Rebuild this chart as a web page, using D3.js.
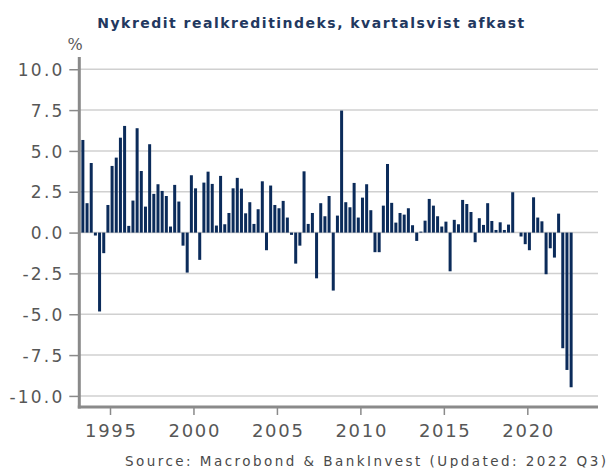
<!DOCTYPE html>
<html>
<head>
<meta charset="utf-8">
<script src="https://cdn.jsdelivr.net/npm/d3@7"></script>
<style>
  html, body { margin: 0; padding: 0; background: #ffffff; }
  svg { display: block; }
</style>
</head>
<body>
<svg id="chart" width="608" height="468"></svg>
<script>
// ---- Data (quarterly return, %), 1993 Q2 .. 2022 Q3 ----
const startYear = 1993;
const startQuarter = 2;
const returns = [
  5.67, 1.80, 4.26, -0.18, -4.83, -1.26, 1.69, 4.08, 4.59, 5.81,
  6.53, 0.41, 1.96, 6.39, 3.77, 1.59, 5.41, 2.37, 2.96, 2.55,
  2.24, 0.37, 2.92, 1.90, -0.80, -2.45, 3.51, 2.71, -1.67, 3.06,
  3.73, 2.98, 0.43, 3.47, 0.51, 1.20, 2.71, 3.35, 2.69, 1.18,
  1.86, 0.53, 1.43, 3.14, -1.08, 2.88, 1.69, 1.49, 1.94, 0.92,
  -0.14, -1.90, -0.80, 3.75, 0.53, 1.20, -2.80, 1.80, 1.00, 2.24,
  -3.55, 1.04, 7.47, 1.86, 1.55, 3.04, 0.92, 2.14, 2.96, 1.37,
  -1.20, -1.20, 1.65, 4.20, 1.82, 0.61, 1.20, 1.10, 1.49, 0.45,
  -0.51, 0.06, 0.73, 2.06, 1.65, 1.00, 0.37, 0.67, -2.37, 0.78,
  0.51, 2.00, 1.75, 1.26, -0.59, 0.88, 0.47, 1.80, 0.71, 0.16,
  0.63, 0.16, 0.49, 2.47, 0.00, -0.24, -0.71, -1.08, 2.16, 0.92,
  0.69, -2.55, -0.96, -1.53, 1.16, -7.08, -8.41, -9.47
];
const yTicks = [-10, -7.5, -5, -2.5, 0, 2.5, 5, 7.5, 10];
const xTicks = [1995, 2000, 2005, 2010, 2015, 2020];
const titleText = "Nykredit realkreditindeks, kvartalsvist afkast";
const unitText = "%";
const sourceText = "Source: Macrobond & BankInvest (Updated: 2022 Q3)";

const data = returns.map((v, i) => {
  const qi = (startQuarter - 1) + i;
  return { t: startYear + qi / 4 + 0.125, v: v };
});

// ---- Layout ----
const svg = d3.select("#chart");
const plotLeft = 79.3, plotRight = 598, plotTop = 57, plotBottom = 408;

const x = d3.scaleLinear().domain([1993.161, 2024.235]).range([plotLeft, plotRight]);
const y = d3.scaleLinear().domain([-10.74, 10.75]).range([plotBottom, plotTop]);

const axisColor = "#8a8a8a";
const gridColor = "#d0d0d0";
const textColor = "#575757";
const barColor = "#0b2b5a";
const font = "'DejaVu Sans', sans-serif";

// Gridlines
svg.append("g")
  .selectAll("line")
  .data(yTicks)
  .join("line")
  .attr("x1", plotLeft).attr("x2", plotRight)
  .attr("y1", d => y(d)).attr("y2", d => y(d))
  .attr("stroke", gridColor)
  .attr("stroke-width", 1.5);

// Bars
const bw = 3;
svg.append("g")
  .selectAll("rect")
  .data(data)
  .join("rect")
  .attr("x", d => x(d.t) - bw / 2)
  .attr("width", bw)
  .attr("y", d => Math.min(y(d.v), y(0)))
  .attr("height", d => Math.abs(y(d.v) - y(0)))
  .attr("fill", barColor);

// Y axis
const yAxis = d3.axisLeft(y).tickValues(yTicks).tickSize(9).tickSizeOuter(0)
  .tickPadding(7).tickFormat(d => d.toFixed(1));
const gy = svg.append("g").attr("transform", `translate(${plotLeft - 1},0)`).call(yAxis);
gy.select(".domain").remove();
gy.selectAll(".tick line").attr("stroke", axisColor).attr("stroke-width", 1.5);
gy.selectAll(".tick text")
  .attr("fill", textColor)
  .style("font-family", font)
  .style("font-size", "17px")
  .style("letter-spacing", "2.2px")
  .attr("x", -16 + 2.2)
  .attr("dy", "0.36em");

// X axis
const xAxis = d3.axisBottom(x).tickValues(xTicks).tickSize(7).tickSizeOuter(0)
  .tickPadding(9).tickFormat(d3.format("d"));
const gx = svg.append("g").attr("transform", `translate(0,${plotBottom})`).call(xAxis);
gx.select(".domain").remove();
gx.selectAll(".tick line").attr("stroke", axisColor).attr("stroke-width", 1.5);
gx.selectAll(".tick text")
  .attr("fill", textColor)
  .style("font-family", font)
  .style("font-size", "18px")
  .style("letter-spacing", "1.7px")
  .attr("dx", "0.85px")
  .attr("y", 28.5)
  .attr("dy", 0);

// Axis lines (thick gray frame on left and bottom)
svg.append("line")
  .attr("x1", plotLeft).attr("x2", plotLeft)
  .attr("y1", plotTop).attr("y2", plotBottom + 0.5)
  .attr("stroke", axisColor).attr("stroke-width", 3);
svg.append("line")
  .attr("x1", plotLeft - 1.5).attr("x2", plotRight)
  .attr("y1", plotBottom - 1).attr("y2", plotBottom - 1)
  .attr("stroke", axisColor).attr("stroke-width", 3);

// Title
svg.append("text")
  .attr("x", 97.3).attr("y", 27.5)
  .attr("textLength", 427)
  .attr("lengthAdjust", "spacing")
  .attr("fill", "#22385f")
  .style("font-family", font)
  .style("font-weight", "bold")
  .style("font-size", "14px")
  .text(titleText);

// Unit
svg.append("text")
  .attr("x", 75).attr("y", 50)
  .attr("text-anchor", "middle")
  .attr("fill", textColor)
  .style("font-family", "'DejaVu Serif', serif")
  .style("font-size", "16px")
  .text(unitText);

// Source
svg.append("text")
  .attr("x", 125).attr("y", 466)
  .attr("textLength", 481)
  .attr("lengthAdjust", "spacing")
  .attr("fill", "#4a4a4a")
  .style("font-family", font)
  .style("font-size", "13.5px")
  .text(sourceText);
</script>
</body>
</html>
